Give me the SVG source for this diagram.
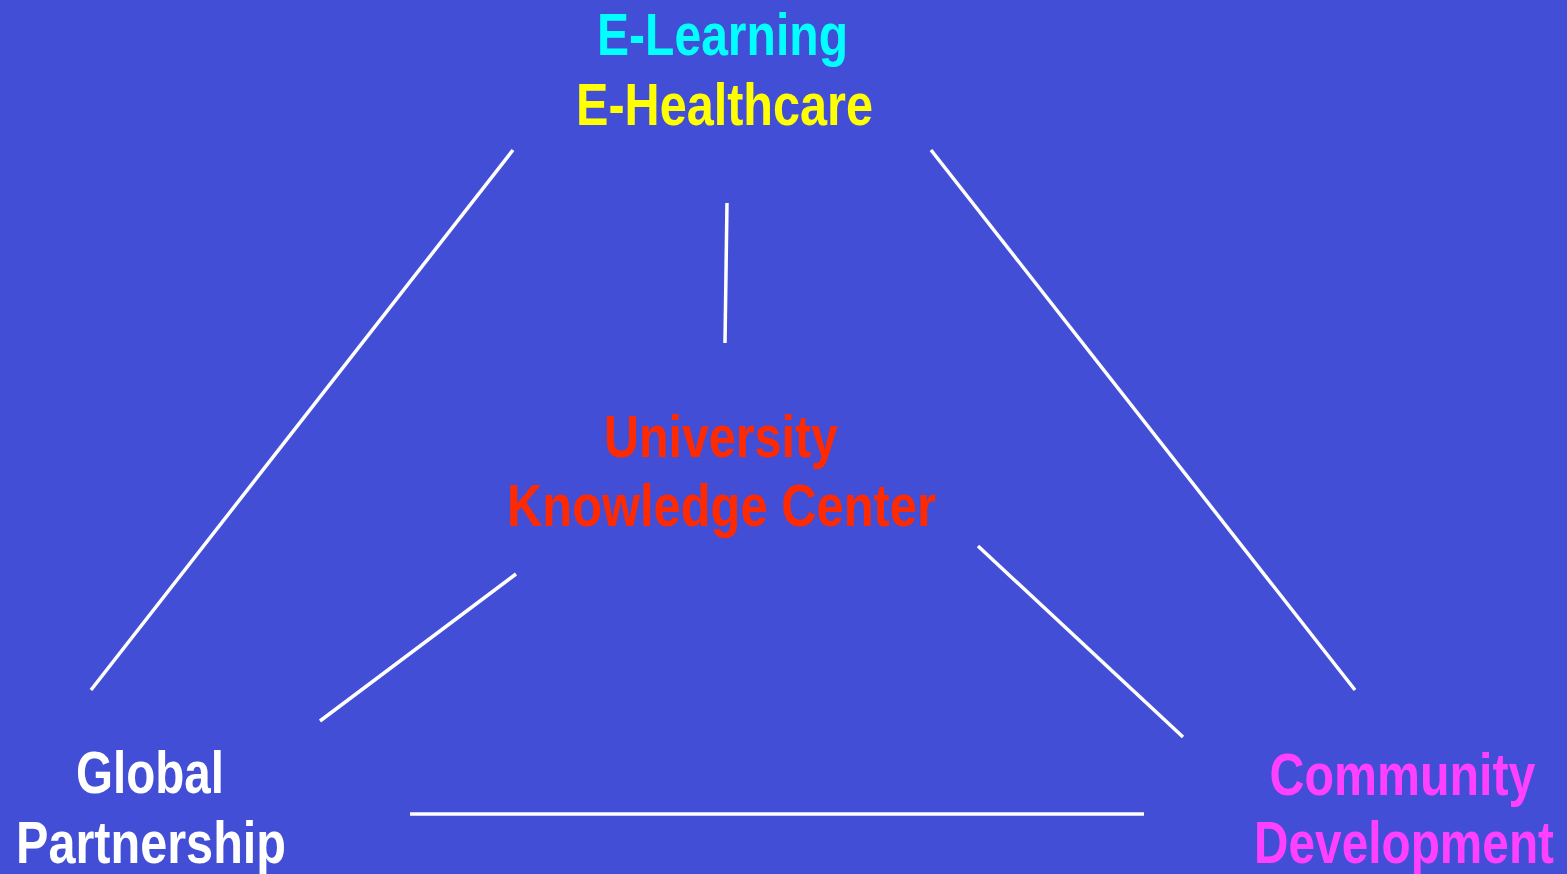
<svg xmlns="http://www.w3.org/2000/svg" width="1567" height="874" viewBox="0 0 1567 874">
<style>
.t{font-family:"Liberation Sans",Arial,sans-serif;font-weight:bold;font-size:60px;text-anchor:middle}
.c{stroke:#ffffff;stroke-width:3.5;fill:none}
</style>
<rect width="1567" height="874" fill="#424ED6"/>
<g id="connectors">
<line class="c" x1="513" y1="150" x2="91" y2="690"/>
<line class="c" x1="931" y1="150" x2="1355" y2="690"/>
<line class="c" x1="727" y1="203" x2="725" y2="343"/>
<line class="c" x1="516" y1="574" x2="320" y2="721"/>
<line class="c" x1="978" y1="546" x2="1183" y2="737"/>
<line class="c" x1="410" y1="814" x2="1144" y2="814"/>
</g>
<g id="top">
<text class="t" x="722.5" y="55" fill="#00FFFF" textLength="251" lengthAdjust="spacingAndGlyphs">E-Learning</text>
<text class="t" x="724.5" y="125" fill="#FFFF00" textLength="297" lengthAdjust="spacingAndGlyphs">E-Healthcare</text>
</g>
<g id="center">
<text class="t" x="721" y="457" fill="#FF2A00" textLength="234" lengthAdjust="spacingAndGlyphs">University</text>
<text class="t" x="721.5" y="526" fill="#FF2A00" textLength="429" lengthAdjust="spacingAndGlyphs">Knowledge Center</text>
</g>
<g id="left">
<text class="t" x="150" y="793" fill="#FFFFFF" textLength="148" lengthAdjust="spacingAndGlyphs">Global</text>
<text class="t" x="151" y="863" fill="#FFFFFF" textLength="270" lengthAdjust="spacingAndGlyphs">Partnership</text>
</g>
<g id="right">
<text class="t" x="1402.5" y="795" fill="#FF40FF" textLength="266" lengthAdjust="spacingAndGlyphs">Community</text>
<text class="t" x="1404" y="863" fill="#FF40FF" textLength="300" lengthAdjust="spacingAndGlyphs">Development</text>
</g>
</svg>
